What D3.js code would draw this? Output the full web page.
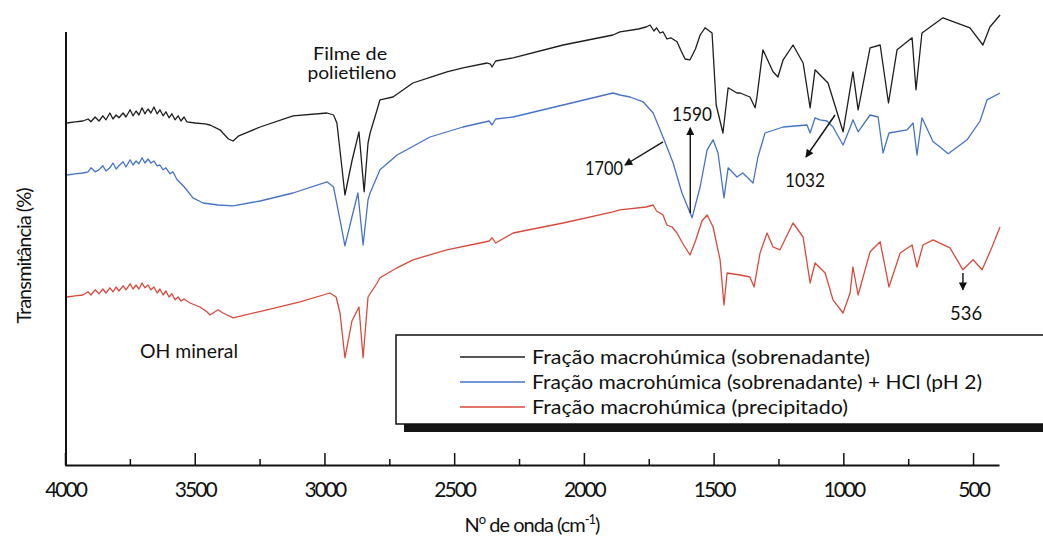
<!DOCTYPE html>
<html><head><meta charset="utf-8">
<script src="https://cdn.jsdelivr.net/npm/d3@7"></script>
<style>
body{margin:0;background:#fff}
svg{display:block}
text{font-family:Lato,'DejaVu Sans',sans-serif;fill:#111}
</style>
</head><body>
<svg id="c" width="1043" height="537"></svg>
<script>
// ---------- data (wavenumber cm-1, transmittance arbitrary %) ----------
const sobrenadante = [[3992,85.5],[3961,85.8],[3931,86],[3911,86.5],[3900,85.8],[3884,87],[3869,86],[3854,87.3],[3842,86.3],[3827,88],[3815,86.5],[3803,87.5],[3792,86.8],[3776,88],[3765,87],[3749,88.8],[3738,87.3],[3726,88.5],[3715,87.5],[3703,89.3],[3692,87.8],[3680,89],[3669,88],[3657,89.5],[3645,87.8],[3634,88.8],[3622,87.3],[3611,88.3],[3599,86.8],[3588,87.8],[3576,86.3],[3564,87.3],[3553,86],[3541,87],[3530,85.8],[3499,85.5],[3460,85.3],[3441,85],[3403,83.8],[3370,81.5],[3352,81],[3330,82.3],[3248,84.5],[3121,87.3],[2990,88],[2965,87.5],[2952,85.5],[2936,76.3],[2921,67.5],[2894,76],[2867,83.3],[2847,68.3],[2832,80.5],[2824,83],[2797,88.8],[2786,91.3],[2736,92],[2659,95.5],[2593,96.9],[2528,98.3],[2466,99.3],[2373,100.5],[2360,100.2],[2354,99.5],[2340,101],[2273,101.8],[2080,105],[1888,107.5],[1861,108.3],[1790,109],[1760,109.5],[1745,110],[1730,108.5],[1720,109.3],[1707,108],[1695,108.3],[1680,106.5],[1665,106.8],[1641,105.8],[1625,103.5],[1610,101.5],[1591,101.3],[1570,104],[1552,107.5],[1533,109.3],[1506,108],[1490,90],[1464,83],[1444,94.3],[1410,93],[1398,93],[1360,92],[1340,89.3],[1333,92],[1310,103.8],[1271,98.3],[1252,97],[1232,101.3],[1194,105],[1155,100.5],[1128,89.3],[1109,98.8],[1082,97],[1059,95.5],[1001,83.3],[963,98.3],[943,88.8],[897,104.3],[858,105],[826,90.5],[793,103.8],[735,106.8],[720,93.8],[697,108],[616,111.8],[512,109.3],[462,105],[435,109.5],[396,112.5]];

const sobrenadanteHCl = [[3992,72.5],[3961,72.8],[3931,73],[3911,73.3],[3900,74.3],[3884,73.3],[3869,73.8],[3854,74.8],[3842,73.5],[3827,74.3],[3815,75.5],[3803,74],[3792,74.8],[3776,75.8],[3765,74.5],[3749,76.3],[3738,75],[3726,76],[3715,75.3],[3703,76.8],[3692,75.5],[3680,76.5],[3669,75.5],[3657,76],[3645,74.8],[3634,75],[3622,73.8],[3611,74.3],[3595,72.8],[3584,73.3],[3568,71.3],[3540,69.5],[3507,66.8],[3468,65.5],[3410,65],[3352,64.8],[3248,66],[3121,68],[2990,70.8],[2965,69.5],[2940,61.3],[2921,54.8],[2894,62],[2871,68],[2851,55],[2832,66.3],[2824,68],[2786,73.8],[2720,77.5],[2593,82],[2466,84.5],[2365,86],[2354,85],[2340,86.5],[2273,87],[2080,90],[1888,93],[1861,92.5],[1822,92],[1772,90.8],[1733,88],[1695,82],[1656,75.5],[1622,68],[1583,61.8],[1552,69.5],[1525,78.8],[1502,81.3],[1483,78],[1460,66.8],[1444,74.3],[1410,72],[1387,73],[1348,70.5],[1329,77],[1302,83],[1232,84.5],[1140,85],[1128,83],[1109,86.8],[1090,86.3],[1063,86],[1040,84.5],[1001,80],[974,84.3],[963,86.3],[943,83.3],[897,87.5],[866,87],[847,78],[824,83],[754,83.8],[731,85.5],[716,77.5],[697,86.8],[654,80.8],[627,79.5],[596,77.8],[523,81.3],[473,86],[446,91.3],[396,93]];

const precipitado = [[3992,42],[3961,42.3],[3931,42.5],[3911,43.3],[3900,42.5],[3884,43.8],[3869,42.8],[3854,44],[3842,43],[3827,44.3],[3815,43.3],[3803,44.5],[3792,43.5],[3776,44.8],[3765,43.8],[3749,45.3],[3738,44],[3726,45],[3715,44],[3703,45.5],[3692,44.3],[3680,45],[3669,43.8],[3657,44.5],[3645,43],[3634,44],[3622,42.5],[3611,43.5],[3599,42],[3588,42.8],[3576,41.3],[3564,42],[3553,41],[3541,41.5],[3518,40.5],[3480,39.5],[3453,38.3],[3441,37.5],[3410,38.8],[3391,38],[3352,36.8],[3221,38.8],[3094,40.8],[2979,43],[2955,42],[2940,38],[2921,26.8],[2894,36],[2867,39.5],[2851,26.8],[2832,42],[2797,45.5],[2786,46.8],[2720,49.3],[2659,51.3],[2528,53.8],[2400,55.5],[2365,56],[2354,56.8],[2340,55.5],[2273,58],[2080,60.5],[1888,63.3],[1861,63.8],[1760,64.5],[1733,65],[1720,63.5],[1707,63],[1695,62.5],[1680,60],[1660,59.5],[1641,58],[1620,55.5],[1591,52.5],[1570,56],[1545,61],[1525,62.5],[1502,59.5],[1475,51.3],[1460,40],[1448,48],[1398,47.5],[1360,47],[1344,44.5],[1321,53],[1294,58],[1271,54.5],[1244,53.8],[1194,60.5],[1155,57],[1128,45.5],[1109,50.5],[1070,48],[1040,41.3],[1001,38],[974,43],[963,49.5],[943,42.5],[897,53.3],[858,55.8],[824,44.5],[781,53],[735,55],[716,49.5],[693,55],[654,56.3],[589,54.3],[539,48.8],[500,51.3],[465,48.8],[427,54.5],[396,59.5]];

const seriesLabels = ["Fração macrohúmica (sobrenadante)","Fração macrohúmica (sobrenadante) + HCl (pH 2)","Fração macrohúmica (precipitado)"];
const seriesColors = ["#1e1e1e","#4673c8","#d94a3c"];
const majorTicks = [4000,3500,3000,2500,2000,1500,1000,500];
const minorTicks = [3750,3250,2750,2250,1750,1250,750];
const textNotes = [
  {text:"Filme de", wn:2901, t:101.3, anchor:"middle", w:74, fs:17},
  {text:"polietileno", wn:2894, t:96.5, anchor:"middle", w:89, fs:17},
  {text:"OH mineral", wn:3522, t:26.8, anchor:"middle", w:98, fs:19},
  {text:"1590", wn:1583, t:86, anchor:"middle", w:40, fs:19},
  {text:"1700", wn:1849, t:72.5, anchor:"end", w:38, fs:19},
  {text:"1032", wn:1148, t:69.5, anchor:"middle", w:40, fs:19},
  {text:"536", wn:527, t:36.3, anchor:"middle", w:32, fs:19}
];
const arrowNotes = [
  {from:[1590,63], to:[1590,84.3]},
  {from:[1695,80.8], to:[1842,75]},
  {from:[1032,87.5], to:[1144,77]},
  {from:[539,48], to:[539,43.8]}
];

// ---------- chart ----------
const svg = d3.select("#c");
const x = d3.scaleLinear().domain([4000,400]).range([65,999]);
const y = d3.scaleLinear().domain([0,108.25]).range([465,32]);

svg.append("defs").append("marker")
  .attr("id","ah").attr("viewBox","0 0 10 10").attr("refX",9).attr("refY",5)
  .attr("markerWidth",9).attr("markerHeight",8).attr("markerUnits","userSpaceOnUse")
  .attr("orient","auto")
  .append("path").attr("d","M0,0 L10,5 L0,10 Z").attr("fill","#111");

const line = d3.line().x(d=>x(d[0])).y(d=>y(d[1]));
[sobrenadante, sobrenadanteHCl, precipitado].forEach((s,i)=>{
  svg.append("path").datum(s).attr("d",line)
    .attr("fill","none").attr("stroke",seriesColors[i])
    .attr("stroke-width",1.3).attr("stroke-linejoin","round");
});

// axes
const gx = svg.append("g").attr("transform",`translate(0,${y(0)})`);
gx.call(d3.axisBottom(x).tickValues(majorTicks).tickSizeInner(-12).tickSizeOuter(0).tickFormat(d3.format("d")));
gx.select(".domain").attr("stroke-width",2).attr("stroke","#111");
gx.selectAll(".tick line").attr("stroke-width",1.5).attr("stroke","#111");
gx.selectAll(".tick text").attr("y",32).attr("dy",0)
  .style("font-family","Lato,'DejaVu Sans',sans-serif").style("font-size","21px")
  .attr("fill","#111").style("letter-spacing","-2px");
const gm = svg.append("g").attr("transform",`translate(0,${y(0)})`);
gm.call(d3.axisBottom(x).tickValues(minorTicks).tickSizeInner(-6).tickSizeOuter(0).tickFormat(""));
gm.select(".domain").remove();
gm.selectAll(".tick line").attr("stroke-width",1.5).attr("stroke","#111");

svg.append("line").attr("x1",x(4000)+1).attr("x2",x(4000)+1)
  .attr("y1",y(0)+1).attr("y2",y(108.25)).attr("stroke","#111").attr("stroke-width",2);

// axis titles
const xt = svg.append("text").attr("x",532).attr("y",532).attr("text-anchor","middle")
  .style("font-size","20px").style("letter-spacing","-1px");
xt.append("tspan").text("N");
xt.append("tspan").attr("dy",-8).style("font-size","13px").text("o");
xt.append("tspan").attr("dy",8).text(" de onda (cm");
xt.append("tspan").attr("dy",-8).style("font-size","13px").text("-1");
xt.append("tspan").attr("dy",8).text(")");

svg.append("text").attr("transform","translate(31,256) rotate(-90)")
  .attr("text-anchor","middle").style("font-size","20px").style("letter-spacing","-1px")
  .text("Transmitância (%)");

// annotations
textNotes.forEach(n=>{
  svg.append("text").attr("x",x(n.wn)).attr("y",y(n.t)).attr("text-anchor",n.anchor)
    .style("font-size",n.fs+"px").attr("textLength",n.w).attr("lengthAdjust","spacingAndGlyphs")
    .text(n.text);
});
arrowNotes.forEach(a=>{
  svg.append("line").attr("x1",x(a.from[0])).attr("y1",y(a.from[1]))
    .attr("x2",x(a.to[0])).attr("y2",y(a.to[1]))
    .attr("stroke","#111").attr("stroke-width",1.4).attr("marker-end","url(#ah)");
});

// legend
svg.append("rect").attr("x",404).attr("y",424).attr("width",660).attr("height",8).attr("fill","#151515");
svg.append("rect").attr("x",396).attr("y",335).attr("width",680).attr("height",89)
  .attr("fill","#fff").attr("stroke","#111").attr("stroke-width",1.5);
const legW = [338,450,316];
seriesLabels.forEach((lab,i)=>{
  const ly = 357 + i*25;
  svg.append("line").attr("x1",460).attr("x2",525).attr("y1",ly).attr("y2",ly)
    .attr("stroke",seriesColors[i]).attr("stroke-width",1.3);
  svg.append("text").attr("x",532).attr("y",ly+7).style("font-size","19px")
    .attr("textLength",legW[i]).attr("lengthAdjust","spacingAndGlyphs").text(lab);
});
</script>
</body></html>
